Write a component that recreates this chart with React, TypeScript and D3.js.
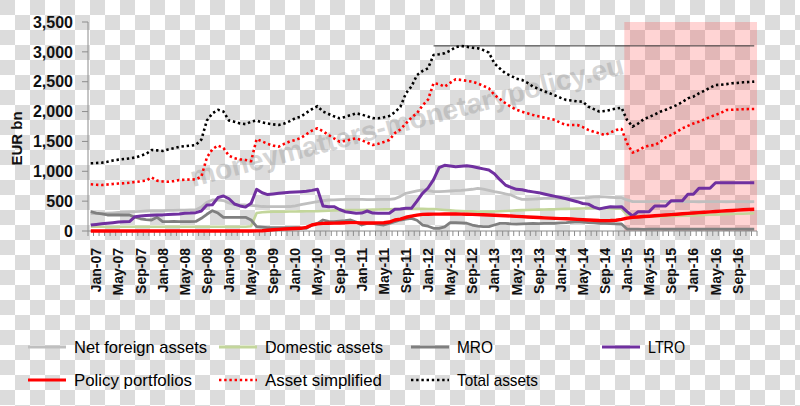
import React from 'react';
import * as d3 from 'd3';

const W = 800;
const H = 406;

const MONTH_NAMES = ['Jan', 'Feb', 'Mar', 'Apr', 'May', 'Jun', 'Jul', 'Aug', 'Sep', 'Oct', 'Nov', 'Dec'];
// Dec-06 ... Dec-16 (monthly)
const categories: string[] = d3.range(121).map((i) => {
  const m = (11 + i) % 12;
  const yr = 6 + Math.floor((11 + i) / 12);
  return `${MONTH_NAMES[m]}-${String(yr).padStart(2, '0')}`;
});

const tickLabels = [
  'Jan-07', 'May-07', 'Sep-07', 'Jan-08', 'May-08', 'Sep-08', 'Jan-09', 'May-09', 'Sep-09',
  'Jan-10', 'May-10', 'Sep-10', 'Jan-11', 'May-11', 'Sep-11', 'Jan-12', 'May-12', 'Sep-12',
  'Jan-13', 'May-13', 'Sep-13', 'Jan-14', 'May-14', 'Sep-14', 'Jan-15', 'May-15', 'Sep-15',
  'Jan-16', 'May-16', 'Sep-16',
];

const yTicks = [0, 500, 1000, 1500, 2000, 2500, 3000, 3500];

const netForeignAssets = [
  290,
  290, 295, 300, 305, 310, 315, 320, 325, 330, 335, 340, 340,
  340, 345, 345, 350, 350, 355, 355, 400, 480, 519, 519, 510,
  470, 440, 435, 435, 430, 420, 410, 407, 407, 407, 407, 410,
  420, 440, 460, 474, 490, 510, 519, 520, 525, 530, 530, 530,
  530, 525, 525, 530, 530, 531, 540, 580, 631, 650, 670, 687,
  680, 660, 659, 665, 670, 675, 680, 690, 699, 715, 700, 680,
  659, 642, 620, 603, 560, 531, 530, 535, 540, 545, 547, 547,
  547, 547, 547, 550, 555, 560, 570, 575, 570, 565, 560, 558,
  520, 491, 491, 492, 493, 495, 495, 494, 493, 492, 492, 491,
  491, 490, 492, 493, 492, 491, 490, 491, 492, 491, 490, 491,
];

const domesticAssets = [
  70,
  70, 70, 68, 68, 70, 70, 72, 72, 70, 70, 72, 72,
  72, 72, 70, 70, 70, 72, 72, 72, 72, 72, 72, 72,
  72, 72, 72, 72, 80, 300, 315, 320, 324, 324, 324, 326,
  326, 328, 330, 330, 330, 335, 340, 345, 350, 352, 352, 352,
  352, 355, 358, 360, 362, 365, 368, 368, 368, 368, 370, 370,
  368, 368, 360, 352, 345, 340, 335, 330, 328, 325, 324, 324,
  326, 330, 335, 340, 345, 350, 352, 355, 358, 360, 362, 365,
  368, 370, 372, 375, 378, 380, 380, 380, 380, 378, 375, 372,
  268, 250, 245, 240, 240, 242, 245, 248, 250, 252, 255, 258,
  262, 265, 268, 272, 275, 278, 282, 285, 288, 290, 293, 296,
];

const mro = [
  324,
  300, 285, 268, 268, 268, 268, 268, 230, 205, 190, 184, 229,
  156, 156, 160, 158, 156, 156, 160, 212, 280, 340, 300, 229,
  229, 229, 229, 229, 184, 72, 65, 55, 55, 55, 55, 55,
  55, 50, 45, 100, 128, 184, 160, 156, 165, 173, 184, 150,
  100, 128, 128, 110, 100, 128, 156, 184, 200, 212, 180, 100,
  80, 45, 45, 70, 140, 140, 135, 130, 100, 80, 72, 72,
  100, 128, 128, 120, 115, 120, 125, 128, 125, 128, 128, 130,
  135, 140, 150, 156, 150, 140, 135, 130, 128, 125, 120, 117,
  32, 30, 30, 28, 30, 31, 30, 29, 30, 31, 30, 30,
  30, 29, 30, 30, 31, 30, 29, 30, 30, 30, 29, 30,
];

const ltro = [
  100,
  110, 120, 130, 140, 150, 155, 157, 240, 250, 260, 265, 268,
  270, 275, 280, 285, 296, 300, 307, 335, 435, 440, 560, 586,
  540, 452, 420, 400, 463, 698, 640, 610, 620, 631, 640, 648,
  655, 659, 665, 680, 698, 419, 407, 407, 360, 324, 310, 296,
  300, 335, 300, 296, 296, 296, 363, 370, 380, 380, 500, 631,
  720, 860, 1060, 1100, 1090, 1077, 1085, 1094, 1080, 1060, 1040, 1022,
  960, 860, 770, 730, 698, 690, 670, 655, 642, 620, 600, 580,
  560, 540, 515, 491, 460, 450, 400, 370, 390, 407, 400, 407,
  324, 251, 324, 324, 324, 419, 419, 419, 508, 508, 508, 615,
  615, 715, 715, 715, 809, 809, 809, 809, 809, 809, 809, 809,
];

const policyPortfolios = [
  0,
  0, 0, 0, 0, 0, 0, 0, 0, 0, 0, 0, 0,
  0, 0, 0, 0, 0, 0, 0, 0, 0, 0, 0, 0,
  0, 0, 0, 0, 0, 2, 5, 12, 20, 28, 33, 38,
  42, 45, 60, 100, 120, 128, 130, 132, 135, 138, 140, 140,
  135, 135, 135, 136, 138, 150, 184, 200, 230, 250, 265, 279,
  280, 282, 283, 285, 285, 285, 283, 280, 278, 275, 272, 268,
  265, 260, 255, 250, 245, 240, 235, 230, 225, 220, 215, 212,
  208, 205, 200, 195, 190, 185, 180, 175, 173, 175, 180, 195,
  215, 229, 235, 242, 248, 255, 262, 268, 274, 280, 288, 296,
  302, 308, 314, 320, 326, 332, 338, 344, 350, 355, 360, 363,
];

const assetSimplified = [
  782,
  775, 770, 778, 787, 795, 800, 809, 820, 832, 843, 899, 843,
  830, 826, 835, 854, 858, 862, 866, 910, 1230, 1370, 1430, 1390,
  1260, 1220, 1200, 1189, 1170, 1540, 1500, 1460, 1430, 1412, 1460, 1500,
  1524, 1560, 1620, 1680, 1720, 1670, 1608, 1550, 1496, 1510, 1530, 1553,
  1520, 1480, 1440, 1460, 1490, 1524, 1640, 1700, 1800, 1900, 1971, 2100,
  2200, 2474, 2460, 2417, 2480, 2541, 2530, 2515, 2501, 2470, 2430, 2390,
  2280, 2210, 2139, 2080, 2030, 1998, 1970, 1943, 1920, 1900, 1880, 1859,
  1810, 1776, 1776, 1776, 1740, 1692, 1660, 1636, 1608, 1650, 1690, 1708,
  1469, 1312, 1350, 1402, 1430, 1440, 1490, 1569, 1610, 1660, 1720, 1760,
  1800, 1831, 1870, 1910, 1943, 1980, 2027, 2030, 2035, 2040, 2042, 2044,
];

const totalAssets = [
  1134,
  1138, 1144, 1160, 1180, 1195, 1205, 1215, 1230, 1260, 1290, 1357, 1350,
  1340, 1365, 1385, 1410, 1420, 1430, 1440, 1530, 1850, 1970, 2030, 2000,
  1850, 1830, 1800, 1790, 1830, 1850, 1820, 1800, 1785, 1776, 1800, 1840,
  1890, 1915, 1980, 2040, 2090, 2000, 1960, 1920, 1887, 1910, 1940, 1971,
  1950, 1920, 1890, 1887, 1905, 1926, 1990, 2080, 2306, 2420, 2610, 2680,
  2725, 2948, 2960, 2976, 3020, 3080, 3099, 3085, 3070, 3060, 3030, 2987,
  2808, 2720, 2641, 2600, 2550, 2529, 2480, 2417, 2380, 2340, 2306, 2270,
  2230, 2194, 2185, 2170, 2166, 2082, 2040, 2000, 2010, 2030, 2050, 2065,
  1859, 1747, 1800, 1871, 1910, 1950, 1998, 2030, 2070, 2110, 2160, 2222,
  2250, 2306, 2350, 2400, 2445, 2450, 2460, 2474, 2480, 2490, 2495, 2501,
];

const REF_LEVEL = 3100;
const REF_FROM = 'Feb-12';
const SHADE_FROM = 'Jan-15';

type Series = { name: string; data: number[]; color: string; width: number; dash?: string };

const series: Series[] = [
  { name: 'Net foreign assets', data: netForeignAssets, color: '#bfbfbf', width: 2.8 },
  { name: 'Domestic assets', data: domesticAssets, color: '#c3d69b', width: 2.6 },
  { name: 'MRO', data: mro, color: '#7f7f7f', width: 2.8 },
  { name: 'LTRO', data: ltro, color: '#7030a0', width: 3 },
  { name: 'Policy portfolios', data: policyPortfolios, color: '#ff0000', width: 3.4 },
  { name: 'Asset simplified', data: assetSimplified, color: '#ff0000', width: 2.6, dash: '2.4 2.8' },
  { name: 'Total assets', data: totalAssets, color: '#000000', width: 2.6, dash: '2.4 2.8' },
];

const legendItems = [
  { s: 0, lx: 28, tx: 74, ty: 347, tw: 133 },
  { s: 1, lx: 219, tx: 265, ty: 347, tw: 118 },
  { s: 2, lx: 411, tx: 457, ty: 347, tw: 36 },
  { s: 3, lx: 602, tx: 648, ty: 347, tw: 37 },
  { s: 4, lx: 28, tx: 74, ty: 380, tw: 118 },
  { s: 5, lx: 219, tx: 265, ty: 380, tw: 117 },
  { s: 6, lx: 411, tx: 457, ty: 380, tw: 81 },
];

export default function App() {
  const x = d3.scaleLinear().domain([-0.5, categories.length - 0.5]).range([88, 757]);
  const y = d3.scaleLinear().domain([0, 3500]).range([231, 22]);
  const lineGen = d3
    .line<number>()
    .x((_, i) => x(i))
    .y((d) => y(d));

  const refFrom = categories.indexOf(REF_FROM);
  const shadeFrom = categories.indexOf(SHADE_FROM);
  const lastIdx = categories.length - 1;

  const font = "'Liberation Sans', Arial, sans-serif";

  return (
    <svg
      width={W}
      height={H}
      viewBox={`0 0 ${W} ${H}`}
      style={{ position: 'absolute', left: 0, top: 0, display: 'block' }}
    >
      <defs>
        <pattern id="checker" width="30" height="30" patternUnits="userSpaceOnUse">
          <rect x="0" y="0" width="30" height="30" fill="#ffffff" />
          <rect x="0" y="0" width="15" height="15" fill="#dcdcdc" />
          <rect x="15" y="15" width="15" height="15" fill="#dcdcdc" />
        </pattern>
      </defs>
      <rect x={0} y={0} width={W} height={H} fill="url(#checker)" />

      {/* shaded QE period */}
      <rect
        x={x(shadeFrom - 0.5)}
        y={y(3500)}
        width={x(lastIdx + 0.5) - x(shadeFrom - 0.5)}
        height={y(0) - y(3500)}
        fill="#ff0000"
        opacity={0.17}
      />

      {/* watermark */}
      <text
        transform="translate(193,187) rotate(-14.7)"
        fontFamily={font}
        fontWeight="bold"
        fontSize={28}
        fill="#9a9a9a"
        opacity={0.4}
        textLength={447}
        lengthAdjust="spacingAndGlyphs"
      >
        moneymatters-monetarypolicy.eu
      </text>

      {/* y axis */}
      <line x1={88} x2={88} y1={y(3500)} y2={y(0)} stroke="#8c8c8c" strokeWidth={1} />
      {yTicks.map((t) => (
        <g key={t}>
          <line x1={82} x2={88} y1={y(t)} y2={y(t)} stroke="#8c8c8c" strokeWidth={1} />
          <text
            x={73}
            y={y(t)}
            dy="0.36em"
            textAnchor="end"
            fontFamily={font}
            fontWeight="bold"
            fontSize={16}
            fill="#111"
          >
            {d3.format(',')(t)}
          </text>
        </g>
      ))}
      <text
        transform={`translate(22,${(y(3500) + y(0)) / 2 + 12}) rotate(-90)`}
        textAnchor="middle"
        fontFamily={font}
        fontWeight="bold"
        fontSize={15}
        fill="#111"
      >
        EUR bn
      </text>

      {/* x axis */}
      <line x1={88} x2={757} y1={y(0)} y2={y(0)} stroke="#8c8c8c" strokeWidth={1} />
      {d3.range(categories.length + 1).map((i) => (
        <line
          key={i}
          x1={x(i - 0.5)}
          x2={x(i - 0.5)}
          y1={y(0)}
          y2={y(0) + 5}
          stroke="#8c8c8c"
          strokeWidth={1}
        />
      ))}
      {tickLabels.map((lab) => {
        const i = categories.indexOf(lab);
        return (
          <text
            key={lab}
            transform={`translate(${x(i)},${y(0) + 17}) rotate(-90)`}
            dy="0.36em"
            textAnchor="end"
            fontFamily={font}
            fontWeight="bold"
            fontSize={14}
            fill="#111"
          >
            {lab}
          </text>
        );
      })}

      {/* reference line at the peak */}
      <line
        x1={x(refFrom)}
        x2={x(lastIdx)}
        y1={y(REF_LEVEL)}
        y2={y(REF_LEVEL)}
        stroke="#333"
        strokeWidth={1}
      />

      {/* series */}
      {series.map((s) => (
        <path
          key={s.name}
          d={lineGen(s.data) || ''}
          fill="none"
          stroke={s.color}
          strokeWidth={s.width}
          strokeDasharray={s.dash}
          strokeLinejoin="round"
        />
      ))}

      {/* legend */}
      {legendItems.map((it) => {
        const s = series[it.s];
        return (
          <g key={s.name}>
            <line
              x1={it.lx}
              x2={it.lx + 38}
              y1={it.ty}
              y2={it.ty}
              stroke={s.color}
              strokeWidth={s.dash ? 2.4 : 3}
              strokeDasharray={s.dash}
            />
            <text
              x={it.tx}
              y={it.ty}
              dy="0.36em"
              fontFamily="'Liberation Sans Narrow', 'Liberation Sans', Arial, sans-serif"
              fontSize={17}
              fill="#000"
              textLength={it.tw}
              lengthAdjust="spacingAndGlyphs"
            >
              {s.name}
            </text>
          </g>
        );
      })}
    </svg>
  );
}
